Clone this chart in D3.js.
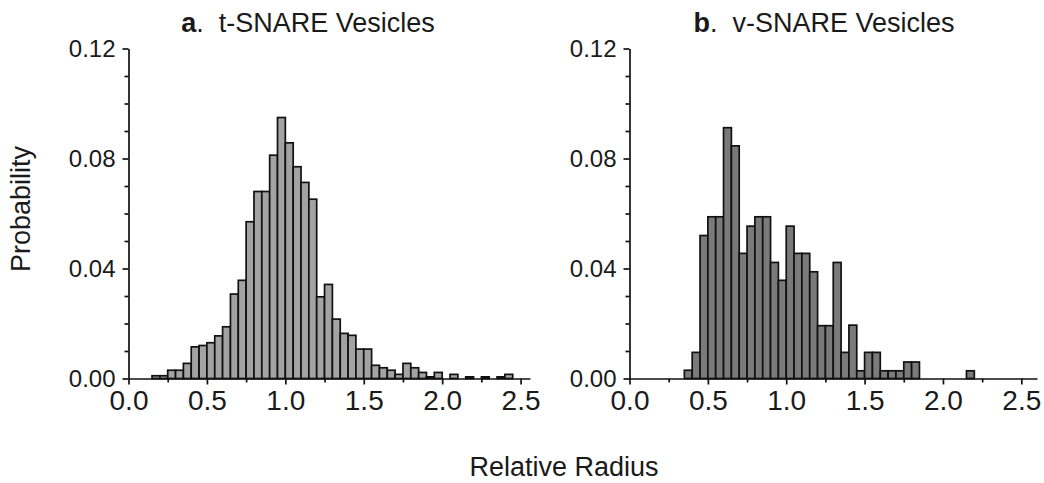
<!DOCTYPE html>
<html>
<head>
<meta charset="utf-8">
<script src="https://cdn.jsdelivr.net/npm/d3@7"></script>
<style>
  body { margin: 0; background: #fff; }
  svg { display: block; }
  text { font-family: "Liberation Sans", Arial, sans-serif; fill: #1a1a1a; }
</style>
</head>
<body>
<svg width="1044" height="483"></svg>
<script>
// bin start (relative radius), bins are 0.05 wide
var tBins = [0.15, 0.20, 0.25, 0.30, 0.35, 0.40, 0.45, 0.50, 0.55, 0.60,
             0.65, 0.70, 0.75, 0.80, 0.85, 0.90, 0.95, 1.00, 1.05, 1.10,
             1.15, 1.20, 1.25, 1.30, 1.35, 1.40, 1.45, 1.50, 1.55, 1.60,
             1.65, 1.70, 1.75, 1.80, 1.85, 1.90, 1.95, 2.00, 2.05, 2.10,
             2.15, 2.20, 2.25, 2.30, 2.35, 2.40];
var tProb = [0.001, 0.001, 0.003, 0.003, 0.0055, 0.0115, 0.012, 0.013, 0.0155, 0.0188,
             0.0307, 0.0357, 0.057, 0.068, 0.068, 0.0812, 0.0949, 0.0857, 0.077, 0.0713,
             0.0652, 0.0297, 0.0342, 0.0216, 0.0164, 0.0157, 0.0107, 0.0107, 0.0048, 0.0039,
             0.003, 0.0015, 0.0055, 0.0039, 0.0022, 0.0006, 0.0022, 0, 0.0015, 0,
             0.0006, 0, 0.0006, 0, 0.0006, 0.0015];

var vBins = [0.35, 0.40, 0.45, 0.50, 0.55, 0.60, 0.65, 0.70, 0.75, 0.80,
             0.85, 0.90, 0.95, 1.00, 1.05, 1.10, 1.15, 1.20, 1.25, 1.30,
             1.35, 1.40, 1.45, 1.50, 1.55, 1.60, 1.65, 1.70, 1.75, 1.80,
             1.85, 1.90, 1.95, 2.00, 2.05, 2.10, 2.15];
var vProb = [0.003, 0.0095, 0.052, 0.0588, 0.0588, 0.0912, 0.0846, 0.0455, 0.0554, 0.0588,
             0.0588, 0.0422, 0.0357, 0.0554, 0.0455, 0.0455, 0.0388, 0.0192, 0.0192, 0.0422,
             0.0095, 0.0194, 0.0028, 0.0095, 0.0095, 0.0028, 0.0028, 0.0028, 0.006, 0.006,
             0, 0, 0, 0, 0, 0, 0.0028];

var binWidth = 0.05;
var xMajor = [0, 0.5, 1.0, 1.5, 2.0, 2.5];
var xMinor = [0.25, 0.75, 1.25, 1.75, 2.25];
var yMajor = [0, 0.04, 0.08, 0.12];
var yMinor = [0.01, 0.02, 0.03, 0.05, 0.06, 0.07, 0.09, 0.10, 0.11];

var svg = d3.select("svg");

var y = d3.scaleLinear().domain([0, 0.12]).range([378.5, 48.5]);

var drawPanel = function(opts) {
    var x = d3.scaleLinear().domain([0, opts.xMax]).range([opts.left, opts.right]);
    var g = svg.append("g");

    var bars = opts.bins.map(function(b, i) { return { x0: b, p: opts.probs[i] }; })
                        .filter(function(d) { return d.p > 0; });

    g.append("g").selectAll("rect")
        .data(bars)
        .enter().append("rect")
        .attr("x", function(d) { return x(d.x0); })
        .attr("y", function(d) { return y(d.p); })
        .attr("width", function(d) { return x(d.x0 + binWidth) - x(d.x0); })
        .attr("height", function(d) { return y(0) - y(d.p); })
        .attr("fill", opts.fill)
        .attr("stroke", "#111")
        .attr("stroke-width", 1.7);

    // x axis: major ticks labelled, minor ticks plain
    var xAxis = g.append("g").attr("transform", "translate(0," + y(0) + ")")
        .call(d3.axisBottom(x).tickValues(xMajor).tickSize(6).tickSizeOuter(0)
              .tickFormat(d3.format(".1f")));
    g.append("g").attr("transform", "translate(0," + y(0) + ")")
        .call(d3.axisBottom(x).tickValues(xMinor).tickSize(4).tickSizeOuter(0).tickFormat(""))
        .select(".domain").remove();
    xAxis.selectAll("text").attr("font-size", 28).attr("dy", "0.93em").attr("y", 5);

    var yAxis = g.append("g").attr("transform", "translate(" + x(0) + ",0)")
        .call(d3.axisLeft(y).tickValues(yMajor).tickSize(6).tickSizeOuter(0)
              .tickFormat(d3.format(".2f")));
    g.append("g").attr("transform", "translate(" + x(0) + ",0)")
        .call(d3.axisLeft(y).tickValues(yMinor).tickSize(4).tickSizeOuter(0).tickFormat(""))
        .select(".domain").remove();
    yAxis.selectAll("text").attr("font-size", 24).attr("x", -13);

    g.selectAll(".domain, .tick line").attr("stroke", "#111").attr("stroke-width", 1.7);
    g.selectAll(".tick text").attr("fill", "#1a1a1a").attr("font-family", null);

    var title = g.append("text")
        .attr("x", opts.titleX)
        .attr("y", 32)
        .attr("text-anchor", "middle")
        .attr("font-size", 27);
    title.append("tspan").attr("font-weight", "bold").text(opts.letter);
    title.append("tspan").text(".\u00a0 " + opts.title);
};

drawPanel({ bins: tBins, probs: tProb, xMax: 2.56, left: 128.5, right: 530,
            fill: "#a3a3a3", letter: "a", title: "t-SNARE Vesicles", titleX: 308 });
drawPanel({ bins: vBins, probs: vProb, xMax: 2.6, left: 629.5, right: 1037,
            fill: "#7a7a7a", letter: "b", title: "v-SNARE Vesicles", titleX: 824 });

svg.append("text")
    .attr("transform", "translate(30,209) rotate(-90)")
    .attr("text-anchor", "middle")
    .attr("font-size", 27)
    .text("Probability");

svg.append("text")
    .attr("x", 564)
    .attr("y", 476)
    .attr("text-anchor", "middle")
    .attr("font-size", 27)
    .text("Relative Radius");
</script>
</body>
</html>
